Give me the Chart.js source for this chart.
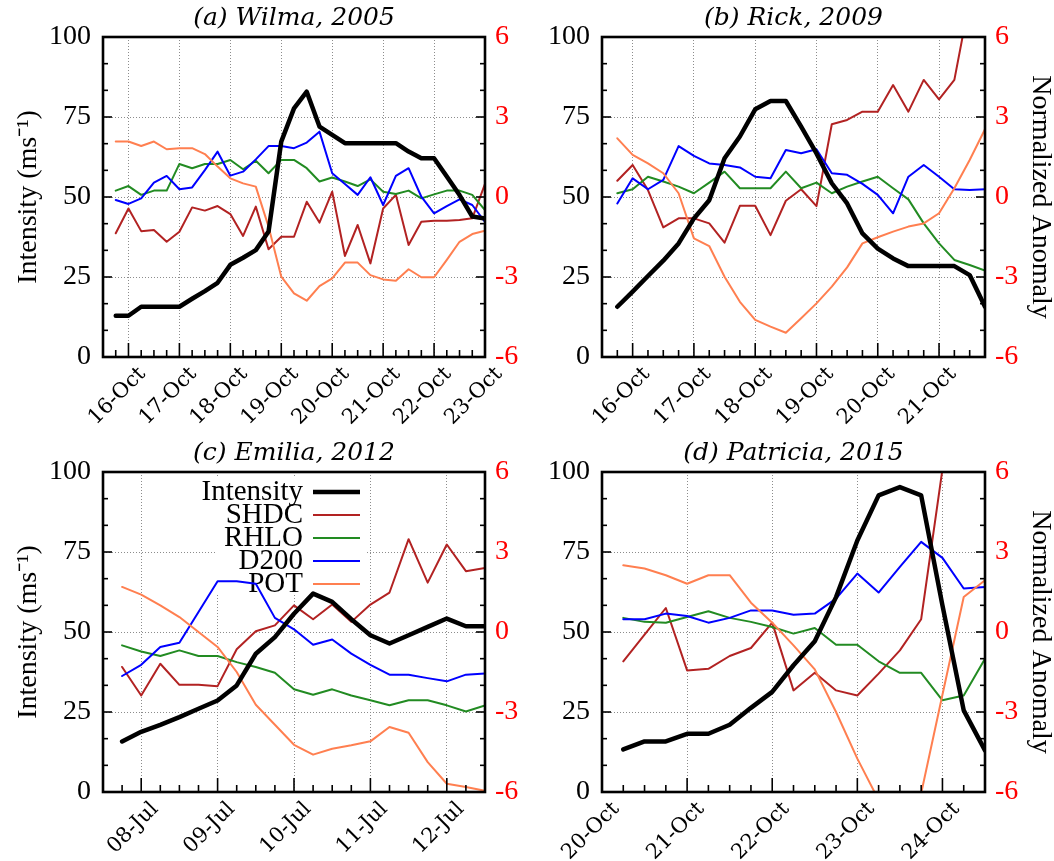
<!DOCTYPE html>
<html>
<head>
<meta charset="utf-8">
<script src="https://cdn.jsdelivr.net/npm/chart.js@4.4.1/dist/chart.umd.min.js"></script>
<style>
  html, body { margin: 0; padding: 0; background: #fff; }
  body { width: 1054px; height: 861px; position: relative; overflow: hidden; }
  canvas { position: absolute; }
</style>
</head>
<body>
<canvas id="panelA" width="545" height="430" style="left:0px;top:0px"></canvas>
<canvas id="panelB" width="527" height="430" style="left:527px;top:0px"></canvas>
<canvas id="panelC" width="545" height="426" style="left:0px;top:435px"></canvas>
<canvas id="panelD" width="527" height="426" style="left:527px;top:435px"></canvas>
<script>
// ---------------- data (6-hourly; intensity in m/s, other fields normalized anomalies) ----------------

// (a) Wilma, 2005 : first sample 15-Oct 18Z
const wilmaStart = 15.75;
const wilmaIntensity = [12.9, 12.9, 15.7, 15.7, 15.7, 15.7, 18.2, 20.6, 23.2, 28.8, 31.0, 33.4, 39.2, 67.3, 77.7,
  82.9, 72.0, 69.4, 66.8, 66.8, 66.8, 66.8, 66.8, 64.2, 62.1, 62.1, 56.4, 50.6, 43.9, 43.3];
const wilmaSHDC = [-1.36, -0.43, -1.28, -1.24, -1.68, -1.30, -0.39, -0.51, -0.34, -0.64, -1.46, -0.36, -1.96, -1.49, -1.49,
  -0.18, -0.96, 0.20, -2.21, -1.05, -2.49, -0.43, 0.08, -1.80, -0.93, -0.89, -0.89, -0.86, -0.80, 0.49];
const wilmaRHLO = [0.24, 0.41, 0.08, 0.24, 0.24, 1.24, 1.08, 1.24, 1.24, 1.39, 1.04, 1.36, 0.89, 1.39, 1.39,
  1.08, 0.58, 0.73, 0.58, 0.41, 0.66, 0.20, 0.11, 0.24, -0.05, 0.10, 0.24, 0.24, 0.08, -0.49];
const wilmaD200 = [-0.11, -0.26, -0.05, 0.54, 0.79, 0.29, 0.36, 1.01, 1.70, 0.80, 0.95, 1.41, 1.91, 1.91, 1.83,
  2.04, 2.45, 0.89, 0.49, 0.08, 0.74, -0.30, 0.79, 1.08, 0.01, -0.61, -0.34, -0.09, -0.30, -0.93];
const wilmaPOT = [2.08, 2.08, 1.91, 2.08, 1.79, 1.83, 1.83, 1.61, 1.14, 0.70, 0.51, 0.39, -1.11, -2.99, -3.61,
  -3.89, -3.34, -3.05, -2.46, -2.46, -2.93, -3.09, -3.14, -2.71, -3.01, -3.01, -2.36, -1.68, -1.39, -1.26];
const wilmaTickDays = [16, 17, 18, 19, 20, 21, 22, 23];
const wilmaTickLabels = ['16-Oct', '17-Oct', '18-Oct', '19-Oct', '20-Oct', '21-Oct', '22-Oct', '23-Oct'];

// (b) Rick, 2009 : first sample 15-Oct 18Z
const rickStart = 15.75;
const rickIntensity = [15.7, 20.4, 25.3, 30.1, 35.5, 43.3, 49.0, 62.1, 68.9, 77.4, 80.0, 80.0, 72.0,
  63.6, 54.3, 48.0, 38.6, 33.9, 30.8, 28.4, 28.4, 28.4, 28.4, 25.6, 15.7];
const rickSHDC = [0.61, 1.20, 0.26, -1.14, -0.80, -0.80, -0.99, -1.71, -0.33, -0.33, -1.43, -0.14, 0.29,
  -0.34, 2.73, 2.89, 3.20, 3.20, 4.20, 3.20, 4.39, 3.66, 4.39, 7.40, 8.60];
const rickRHLO = [0.14, 0.29, 0.76, 0.58, 0.39, 0.14, 0.54, 0.95, 0.33, 0.33, 0.33, 0.95, 0.33,
  0.54, 0.14, 0.39, 0.58, 0.76, 0.33, -0.09, -0.99, -1.74, -2.36, -2.55, -2.76];
const rickD200 = [-0.24, 0.70, 0.29, 0.64, 1.91, 1.54, 1.26, 1.20, 1.11, 0.76, 0.70, 1.76, 1.64,
  1.79, 0.89, 0.83, 0.49, 0.08, -0.61, 0.76, 1.20, 0.76, 0.29, 0.26, 0.29];
const rickPOT = [2.20, 1.58, 1.26, 0.89, 0.14, -1.55, -1.84, -2.99, -3.93, -4.61, -4.86, -5.09, -4.55,
  -3.99, -3.36, -2.64, -1.74, -1.51, -1.30, -1.11, -0.99, -0.61, 0.33, 1.39, 2.54];
const rickTickDays = [16, 17, 18, 19, 20, 21];
const rickTickLabels = ['16-Oct', '17-Oct', '18-Oct', '19-Oct', '20-Oct', '21-Oct'];

// (c) Emilia, 2012 : first sample 07-Jul 18Z
const emiliaStart = 7.75;
const emiliaIntensity = [15.8, 18.8, 21.0, 23.4, 26.0, 28.6, 33.3, 43.2, 48.4, 55.7,
  62.0, 59.4, 54.0, 49.0, 46.4, 49.0, 51.6, 54.2, 51.8, 51.8];
const emiliaSHDC = [-1.31, -2.38, -1.19, -1.98, -1.98, -2.03, -0.65, 0.03, 0.25, 1.00,
  0.48, 1.03, 0.38, 1.03, 1.48, 3.48, 1.85, 3.28, 2.28, 2.40];
const emiliaRHLO = [-0.50, -0.73, -0.90, -0.69, -0.90, -0.90, -1.13, -1.31, -1.53, -2.15,
  -2.35, -2.15, -2.38, -2.56, -2.75, -2.56, -2.56, -2.75, -2.98, -2.75];
const emiliaD200 = [-1.65, -1.23, -0.56, -0.40, 0.75, 1.90, 1.90, 1.81, 0.53, 0.10,
  -0.48, -0.28, -0.81, -1.23, -1.60, -1.60, -1.73, -1.85, -1.60, -1.56];
const emiliaPOT = [1.69, 1.40, 1.00, 0.56, 0.00, -0.56, -1.50, -2.73, -3.48, -4.23,
  -4.60, -4.38, -4.25, -4.10, -3.56, -3.78, -4.88, -5.69, -5.81, -5.95];
const emiliaTickDays = [8, 9, 10, 11, 12];
const emiliaTickLabels = ['08-Jul', '09-Jul', '10-Jul', '11-Jul', '12-Jul'];

// (d) Patricia, 2015 : first sample 20-Oct 06Z
const patriciaStart = 20.25;
const patriciaIntensity = [13.3, 15.8, 15.8, 18.2, 18.2, 21.0, 26.3, 31.3, 39.6, 47.1, 60.9, 78.6,
  92.7, 95.3, 92.7, 58.3, 25.5, 13.0];
const patriciaSHDC = [-1.10, -0.10, 0.90, -1.44, -1.38, -0.90, -0.60, 0.35, -2.19, -1.53, -2.19, -2.38,
  -1.56, -0.69, 0.48, 6.10, 9.00, 10.00];
const patriciaRHLO = [0.53, 0.38, 0.35, 0.56, 0.78, 0.53, 0.38, 0.19, -0.06, 0.15, -0.48, -0.48,
  -1.10, -1.53, -1.53, -2.56, -2.38, -1.00];
const patriciaD200 = [0.48, 0.48, 0.69, 0.60, 0.35, 0.53, 0.81, 0.81, 0.65, 0.69, 1.25, 2.19,
  1.48, 2.44, 3.38, 2.78, 1.63, 1.69];
const patriciaPOT = [2.50, 2.38, 2.13, 1.81, 2.13, 2.13, 1.10, 0.35, -0.50, -1.40, -3.00, -4.75,
  -6.30, -7.50, -6.05, -2.35, 1.31, 1.94];
const patriciaTickDays = [20, 21, 22, 23, 24];
const patriciaTickLabels = ['20-Oct', '21-Oct', '22-Oct', '23-Oct', '24-Oct'];

const seriesNames = ['Intensity', 'SHDC', 'RHLO', 'D200', 'POT'];
const seriesColors = ['#000000', '#b22222', '#228b22', '#0000ff', '#ff7f50'];
const seriesWidths = [4.5, 2, 2, 2, 2];

// ---------------- drawing ----------------
const SERIF = '"Liberation Serif", "Times New Roman", serif';
const TITLE_FONT = 'italic 25px "DejaVu Serif", serif';
const GRID_COLOR = '#8c8c8c';

// time stamps (day of month, fractional) every 6 hours
function sixHourly(start, n) {
  const t = [];
  for (let i = 0; i < n; i++) t.push(start + i * 0.25);
  return t;
}

// frame, inward tick marks, panel title and the in-plot key
const panelDecor = {
  id: 'panelDecor',
  beforeDatasetsDraw(chart, args, opts) {
    if (!opts.legend) return;
    const { ctx } = chart;
    const k = opts.legend;
    ctx.save();
    ctx.fillStyle = '#fff';
    ctx.fillRect(k.boxLeft, k.boxTop, k.boxRight - k.boxLeft, k.boxBottom - k.boxTop);
    ctx.font = '29px ' + SERIF;
    ctx.textAlign = 'right';
    ctx.textBaseline = 'middle';
    seriesNames.forEach((name, i) => {
      const y = k.top + i * k.rowGap;
      ctx.fillStyle = '#000';
      ctx.fillText(name, k.textRight, y);
      ctx.strokeStyle = seriesColors[i];
      ctx.lineWidth = seriesWidths[i];
      ctx.beginPath();
      ctx.moveTo(k.lineLeft, y);
      ctx.lineTo(k.lineRight, y);
      ctx.stroke();
    });
    ctx.restore();
  },
  afterDatasetsDraw(chart, args, opts) {
    const { ctx, chartArea: a, scales } = chart;
    const xs = scales.x, ys = scales.y, y2 = scales.y2;
    ctx.save();
    ctx.strokeStyle = '#000';
    ctx.lineWidth = 1.6;
    const seg = (x1, y1, x2, y2p) => { ctx.beginPath(); ctx.moveTo(x1, y1); ctx.lineTo(x2, y2p); ctx.stroke(); };
    // bottom ticks: days major, 6 h minor
    const nq = Math.round((xs.max - xs.min) * 4);
    for (let i = 1; i < nq; i++) {
      const d = xs.min + i * 0.25;
      const px = xs.getPixelForValue(d);
      const major = Math.abs(d - Math.round(d)) < 1e-6;
      seg(px, a.bottom, px, a.bottom - (major ? 14 : 7));
    }
    // left ticks (one per anomaly unit)
    for (let i = 1; i < 12; i++) {
      const py = ys.getPixelForValue(i * 100 / 12);
      seg(a.left, py, a.left + (i % 3 === 0 ? 9 : 5), py);
    }
    // right ticks
    for (let v = -5; v <= 5; v++) {
      const py = y2.getPixelForValue(v);
      seg(a.right, py, a.right - (v % 3 === 0 ? 9 : 5), py);
    }
    ctx.lineWidth = 2.6;
    ctx.strokeRect(a.left, a.top, a.right - a.left, a.bottom - a.top);
    // title
    ctx.fillStyle = '#000';
    ctx.font = TITLE_FONT;
    ctx.textAlign = 'center';
    ctx.textBaseline = 'alphabetic';
    ctx.fillText(opts.title, (a.left + a.right) / 2, a.top - 12);
    ctx.restore();
  }
};

function makePanel(cfg) {
  const times = sixHourly(cfg.start, cfg.series[0].length);
  const datasets = cfg.series.map((vals, i) => ({
    label: seriesNames[i],
    data: vals.map((v, j) => ({ x: times[j], y: v })),
    yAxisID: i === 0 ? 'y' : 'y2',
    borderColor: seriesColors[i],
    backgroundColor: seriesColors[i],
    borderWidth: seriesWidths[i],
    pointRadius: 0,
    tension: 0,
    fill: false,
    order: i === 0 ? 0 : 5 - i
  }));
  const canvas = document.getElementById(cfg.canvas);
  const W = canvas.width, H = canvas.height;
  const a = cfg.area;
  return new Chart(canvas, {
    type: 'line',
    data: { datasets },
    options: {
      responsive: false,
      animation: false,
      devicePixelRatio: 1,
      layout: { padding: { top: a.top, left: 0, right: 0, bottom: 0 } },
      elements: { line: { borderJoinStyle: 'round', borderCapStyle: 'round' } },
      plugins: {
        legend: { display: false },
        tooltip: { enabled: false },
        panelDecor: { title: cfg.title, legend: cfg.legend || null }
      },
      scales: {
        x: {
          type: 'linear',
          min: cfg.xMin,
          max: cfg.xMax,
          afterBuildTicks: s => { s.ticks = cfg.tickDays.map(v => ({ value: v })); },
          afterFit: s => { s.height = H - a.bottom; },
          grid: { color: GRID_COLOR, lineWidth: 1, drawTicks: false },
          border: { display: false, dash: [1, 2] },
          ticks: {
            autoSkip: false,
            minRotation: 45,
            maxRotation: 45,
            padding: 5,
            labelOffset: 14,
            color: '#000',
            font: { family: '"DejaVu Serif", serif', size: 21 },
            callback: (v, i) => cfg.tickLabels[i]
          }
        },
        y: {
          position: 'left',
          min: 0,
          max: 100,
          afterFit: s => { s.width = a.left; },
          grid: { color: GRID_COLOR, lineWidth: 1, drawTicks: false },
          border: { display: false, dash: [1, 2] },
          ticks: { stepSize: 25, padding: 12, color: '#000', font: { family: SERIF, size: 28 } },
          title: {
            display: !!cfg.leftTitle,
            text: cfg.leftTitle || '',
            color: '#000',
            font: { family: SERIF, size: 28, lineHeight: 1.2 },
            padding: { top: 12, bottom: 0 }
          }
        },
        y2: {
          position: 'right',
          min: -6,
          max: 6,
          afterFit: s => { s.width = W - a.right; },
          grid: { display: false, drawTicks: false },
          border: { display: false },
          ticks: { stepSize: 3, padding: 10, color: '#ff0000', font: { family: SERIF, size: 28 } },
          title: {
            display: !!cfg.rightTitle,
            text: cfg.rightTitle || '',
            color: '#000',
            font: { family: SERIF, size: 28, lineHeight: 1.0 },
            padding: { top: 0, bottom: 0 }
          }
        }
      }
    },
    plugins: [panelDecor]
  });
}

makePanel({
  canvas: 'panelA', title: '(a) Wilma, 2005',
  area: { left: 103, top: 37, right: 485, bottom: 357 },
  xMin: 15.5, xMax: 23.0, start: wilmaStart,
  series: [wilmaIntensity, wilmaSHDC, wilmaRHLO, wilmaD200, wilmaPOT],
  tickDays: wilmaTickDays, tickLabels: wilmaTickLabels,
  leftTitle: 'Intensity (ms\u207B\u00B9)'
});

makePanel({
  canvas: 'panelB', title: '(b) Rick, 2009',
  area: { left: 75, top: 37, right: 458, bottom: 357 },
  xMin: 15.5, xMax: 21.75, start: rickStart,
  series: [rickIntensity, rickSHDC, rickRHLO, rickD200, rickPOT],
  tickDays: rickTickDays, tickLabels: rickTickLabels,
  rightTitle: 'Normalized Anomaly'
});

makePanel({
  canvas: 'panelC', title: '(c) Emilia, 2012',
  area: { left: 103, top: 37, right: 485, bottom: 357 },
  xMin: 7.5, xMax: 12.5, start: emiliaStart,
  series: [emiliaIntensity, emiliaSHDC, emiliaRHLO, emiliaD200, emiliaPOT],
  tickDays: emiliaTickDays, tickLabels: emiliaTickLabels,
  leftTitle: 'Intensity (ms\u207B\u00B9)',
  legend: { top: 57, rowGap: 23, textRight: 303, lineLeft: 313, lineRight: 360,
            boxLeft: 215, boxRight: 365, boxTop: 43, boxBottom: 159 }
});

makePanel({
  canvas: 'panelD', title: '(d) Patricia, 2015',
  area: { left: 75, top: 37, right: 458, bottom: 357 },
  xMin: 20.0, xMax: 24.5, start: patriciaStart,
  series: [patriciaIntensity, patriciaSHDC, patriciaRHLO, patriciaD200, patriciaPOT],
  tickDays: patriciaTickDays, tickLabels: patriciaTickLabels,
  rightTitle: 'Normalized Anomaly'
});
</script>
</body>
</html>
